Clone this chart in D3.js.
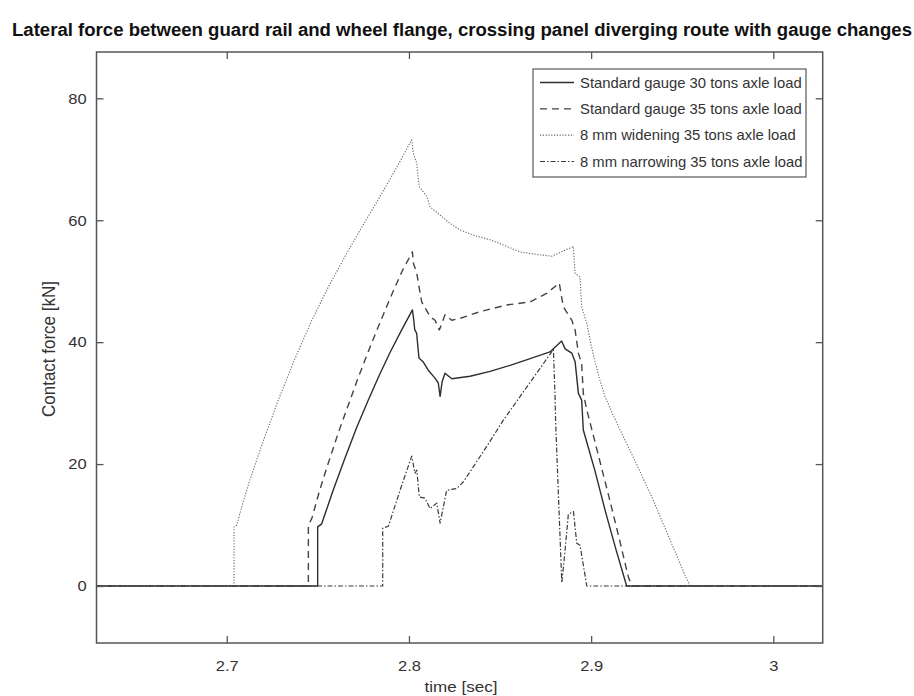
<!DOCTYPE html>
<html>
<head>
<meta charset="utf-8">
<script src="https://cdn.jsdelivr.net/npm/d3@7/dist/d3.min.js"></script>
<style>
  html, body { margin: 0; padding: 0; background: #fff; }
  svg { display: block; font-family: "Liberation Sans", Arial, sans-serif; }
</style>
</head>
<body>
<svg id="chart" width="914" height="696"></svg>
<script>
// Lateral guard rail / wheel flange contact force, [time s, force kN]
const standard30 = [
  [2.6285, 0], [2.7499, 0], [2.7499, 9.7], [2.7521, 10.2], [2.7585, 15.8], [2.7649, 21.0],
  [2.7713, 26.0], [2.7777, 30.5], [2.7836, 34.5], [2.7896, 38.3], [2.7958, 41.9],
  [2.8019, 45.3], [2.8025, 44.0], [2.8032, 42.0], [2.8042, 41.5],
  [2.8055, 37.4], [2.8077, 36.8], [2.8106, 35.4], [2.8143, 34.1], [2.8161, 33.3],
  [2.8171, 31.1], [2.8182, 33.5], [2.8198, 34.9], [2.8235, 34.0], [2.8335, 34.4],
  [2.8445, 35.2], [2.8555, 36.2], [2.8665, 37.3], [2.8774, 38.4], [2.8838, 40.2],
  [2.8857, 38.9], [2.8894, 38.2], [2.8912, 36.8], [2.8930, 31.6], [2.8948, 30.5],
  [2.8957, 25.6], [2.9020, 19.0], [2.9076, 12.5], [2.9136, 6.0], [2.9195, 0], [3.0271, 0]
];
const standard35 = [
  [2.6285, 0], [2.7448, 0], [2.7448, 10.0], [2.7467, 11.1], [2.7508, 15.5], [2.7549, 19.4],
  [2.7613, 25.2], [2.7677, 30.5], [2.7718, 33.9], [2.7759, 37.1], [2.7800, 40.2],
  [2.7841, 43.2], [2.7880, 46.0], [2.7914, 48.4], [2.7965, 51.8], [2.8019, 54.8],
  [2.8025, 52.9], [2.8043, 51.3], [2.8057, 48.8], [2.8070, 46.6], [2.8116, 44.2],
  [2.8143, 43.6], [2.8167, 42.0], [2.8198, 44.5], [2.8235, 43.6], [2.8280, 43.9],
  [2.8390, 45.0], [2.8537, 46.1], [2.8665, 46.6], [2.8756, 48.0], [2.8825, 49.7],
  [2.8847, 45.8], [2.8894, 43.6], [2.8912, 42.0], [2.8930, 38.2], [2.8948, 36.5],
  [2.8957, 31.6], [2.8976, 28.9], [2.9035, 22.0], [2.9093, 15.2], [2.9150, 8.3],
  [2.9204, 1.5], [2.9224, 0], [3.0271, 0]
];
const widening35 = [
  [2.6285, 0], [2.7040, 0], [2.7040, 9.7], [2.7055, 10.0], [2.7090, 13.8], [2.7128, 17.5],
  [2.7200, 23.8], [2.7283, 30.5], [2.7370, 37.0], [2.7467, 43.6], [2.7560, 49.2],
  [2.7659, 54.6], [2.7750, 59.3], [2.7841, 63.9], [2.7930, 68.5], [2.8015, 73.2],
  [2.8024, 71.0], [2.8043, 69.3], [2.8052, 66.6], [2.8057, 65.5], [2.8098, 63.9],
  [2.8116, 62.2], [2.8161, 61.1], [2.8220, 59.6], [2.8280, 58.4], [2.8360, 57.5],
  [2.8445, 56.8], [2.8530, 55.8], [2.8610, 54.8], [2.8700, 54.4], [2.8784, 54.1],
  [2.8902, 55.7], [2.8912, 51.3], [2.8939, 50.7], [2.8948, 45.8], [2.8976, 43.1],
  [2.9000, 39.5], [2.9021, 36.8], [2.9048, 33.8], [2.9076, 31.1], [2.9117, 28.3],
  [2.9159, 25.6], [2.9246, 20.2], [2.9333, 14.6], [2.9410, 9.2], [2.9488, 3.7],
  [2.9515, 1.8], [2.9543, 0], [3.0271, 0]
];
const narrowing35 = [
  [2.6285, 0], [2.7856, 0], [2.7856, 9.5], [2.7887, 9.8], [2.7950, 15.6], [2.8015, 21.3],
  [2.8033, 18.5], [2.8043, 19.0], [2.8057, 14.6], [2.8088, 14.4], [2.8116, 12.7],
  [2.8153, 13.6], [2.8171, 10.3], [2.8207, 15.7], [2.8262, 16.0], [2.8299, 17.1],
  [2.8427, 22.9], [2.8518, 27.2], [2.8793, 38.8], [2.8802, 31.0], [2.8805, 27.0],
  [2.8839, 0.5], [2.8857, 5.9], [2.8875, 11.8], [2.8903, 12.2], [2.8921, 7.0],
  [2.8939, 6.7], [2.8976, 0], [3.0271, 0]
];

const seriesNames = [
  "Standard gauge 30 tons axle load",
  "Standard gauge 35 tons axle load",
  "8 mm widening 35 tons axle load",
  "8 mm narrowing 35 tons axle load"
];
const xTicks = [2.7, 2.8, 2.9, 3.0];
const yTicks = [0, 20, 40, 60, 80];

const titleText = "Lateral force between guard rail and wheel flange, crossing panel diverging route with gauge changes";
const xLabel = "time [sec]";
const yLabel = "Contact force [kN]";

// ---- layout ----
const svg = d3.select("#chart");
const plot = { left: 96.5, right: 822.7, top: 52, bottom: 643 };
const textStretch = "scale(1.1,1)";

const x = d3.scaleLinear().domain([2.6285, 3.0271]).range([plot.left, plot.right]);
const y = d3.scaleLinear().domain([-9.35, 87.6]).range([plot.bottom, plot.top]);

const styles = [
  { stroke: "#2e2e2e", width: 1.4, dash: null },
  { stroke: "#444", width: 1.4, dash: "7,5" },
  { stroke: "#666", width: 1.1, dash: "1.2,1.6" },
  { stroke: "#3a3a3a", width: 1.2, dash: "5,2,1.5,2" }
];
const seriesData = [standard30, standard35, widening35, narrowing35];

// title
svg.append("text")
  .attr("x", 462).attr("y", 36)
  .attr("text-anchor", "middle")
  .attr("font-size", 17.5)
  .attr("font-weight", "bold")
  .attr("fill", "#111")
  .attr("textLength", 900)
  .attr("lengthAdjust", "spacingAndGlyphs")
  .text(titleText);

// curves
const line = d3.line().x(d => x(d[0])).y(d => y(d[1]));
const curves = svg.append("g").attr("fill", "none");
seriesData.forEach((data, i) => {
  curves.append("path")
    .datum(data)
    .attr("d", line)
    .attr("stroke", styles[i].stroke)
    .attr("stroke-width", styles[i].width)
    .attr("stroke-dasharray", styles[i].dash)
    .attr("stroke-linejoin", "round");
});

// axes with inward ticks on all four sides
const tickLen = 7;
function styleAxis(g) {
  g.select(".domain").remove();
  g.selectAll(".tick line").attr("stroke", "#555").attr("stroke-width", 1.3);
  g.selectAll(".tick text").attr("fill", "#333").attr("font-size", 15)
    .attr("font-family", "Liberation Sans, Arial, sans-serif")
    .attr("transform", textStretch);
}
svg.append("g")
  .attr("transform", `translate(0,${plot.bottom})`)
  .call(d3.axisBottom(x).tickValues(xTicks).tickSize(-tickLen).tickPadding(17)
    .tickFormat(d3.format("~g")))
  .call(styleAxis);
svg.append("g")
  .attr("transform", `translate(0,${plot.top})`)
  .call(d3.axisTop(x).tickValues(xTicks).tickSize(-tickLen).tickFormat(""))
  .call(styleAxis);
svg.append("g")
  .attr("transform", `translate(${plot.left},0)`)
  .call(d3.axisLeft(y).tickValues(yTicks).tickSize(-tickLen).tickPadding(9))
  .call(styleAxis);
svg.append("g")
  .attr("transform", `translate(${plot.right},0)`)
  .call(d3.axisRight(y).tickValues(yTicks).tickSize(-tickLen).tickFormat(""))
  .call(styleAxis);

// frame
svg.append("rect")
  .attr("x", plot.left).attr("y", plot.top)
  .attr("width", plot.right - plot.left).attr("height", plot.bottom - plot.top)
  .attr("fill", "none").attr("stroke", "#555").attr("stroke-width", 1.5);

// axis titles
svg.append("text")
  .attr("transform", `translate(461,692) ${textStretch}`)
  .attr("text-anchor", "middle").attr("font-size", 15.5).attr("fill", "#333")
  .text(xLabel);
svg.append("text")
  .attr("transform", "translate(55,349) rotate(-90) scale(1,1.1)")
  .attr("text-anchor", "middle").attr("font-size", 17).attr("fill", "#333")
  .text(yLabel);

// legend
const legend = svg.append("g");
legend.append("rect")
  .attr("x", 533).attr("y", 69).attr("width", 273).attr("height", 108)
  .attr("fill", "#fff").attr("stroke", "#666").attr("stroke-width", 1.3);
const rowY = d3.scalePoint().domain(seriesNames).range([82.5, 161.5]);
seriesNames.forEach((name, i) => {
  const yy = rowY(name);
  legend.append("line")
    .attr("x1", 540).attr("x2", 574).attr("y1", yy).attr("y2", yy)
    .attr("stroke", styles[i].stroke)
    .attr("stroke-width", styles[i].width)
    .attr("stroke-dasharray", styles[i].dash);
  legend.append("text")
    .attr("transform", `translate(580,${yy + 5}) scale(1.06,1)`)
    .attr("font-size", 14).attr("fill", "#333")
    .text(name);
});
</script>
</body>
</html>
